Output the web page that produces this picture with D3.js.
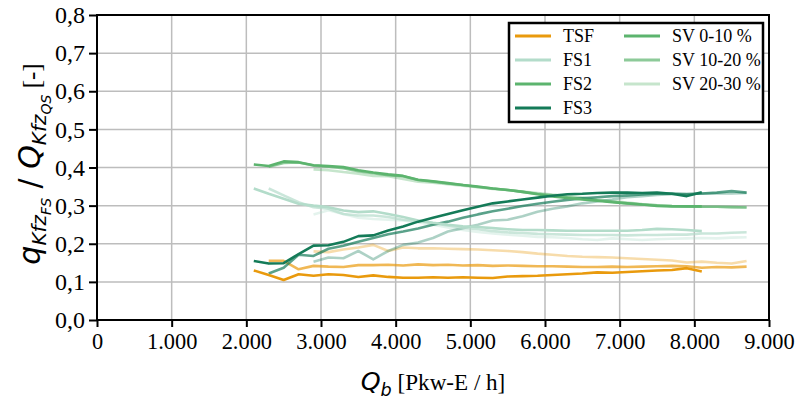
<!DOCTYPE html>
<html><head><meta charset="utf-8">
<script src="https://cdn.jsdelivr.net/npm/d3@7"></script>
<style>body{margin:0;background:#fff}svg{display:block}</style>
</head><body>
<svg id="c" width="804" height="398"></svg>
<script>
// x positions of the three speed-variation classes
const xSV1 = d3.range(2100, 8101, 200);   // SV 0-10 %
const xSV2 = d3.range(2300, 8701, 200);   // SV 10-20 %
const xSV3 = d3.range(2900, 8701, 200);   // SV 20-30 %

const xTicks = [0,1000,2000,3000,4000,5000,6000,7000,8000,9000];
const yTicks = [0,0.1,0.2,0.3,0.4,0.5,0.6,0.7,0.8];

// TSF
const tsf1 = [0.130,0.118,0.105,0.120,0.116,0.120,0.118,0.113,0.117,0.113,0.111,0.111,0.112,0.111,0.112,0.111,0.110,0.114,0.115,0.116,0.118,0.120,0.122,0.125,0.124,0.126,0.128,0.130,0.131,0.136,0.127];
const tsf2 = [0.155,0.155,0.133,0.142,0.140,0.139,0.144,0.144,0.145,0.143,0.146,0.144,0.145,0.143,0.144,0.142,0.143,0.142,0.141,0.141,0.140,0.139,0.139,0.140,0.139,0.140,0.141,0.142,0.141,0.137,0.139,0.138,0.140];
const tsf3 = [0.180,0.178,0.185,0.190,0.197,0.181,0.190,0.188,0.188,0.187,0.186,0.185,0.183,0.181,0.178,0.174,0.171,0.168,0.166,0.165,0.164,0.162,0.160,0.158,0.156,0.151,0.153,0.150,0.148,0.155];
// FS1
const fs1a = [0.345,0.331,0.318,0.305,0.300,0.296,0.287,0.283,0.285,0.278,0.270,0.261,0.255,0.250,0.246,0.244,0.241,0.238,0.236,0.236,0.235,0.234,0.234,0.234,0.234,0.234,0.236,0.239,0.238,0.236,0.233];
const fs1b = [0.345,0.327,0.309,0.296,0.292,0.278,0.274,0.274,0.270,0.263,0.260,0.254,0.248,0.242,0.238,0.233,0.230,0.228,0.226,0.225,0.224,0.223,0.223,0.223,0.222,0.223,0.223,0.224,0.224,0.227,0.227,0.229,0.230];
const fs1c = [0.277,0.288,0.278,0.268,0.265,0.263,0.261,0.256,0.250,0.243,0.236,0.231,0.227,0.224,0.221,0.218,0.217,0.215,0.212,0.210,0.214,0.212,0.210,0.212,0.213,0.214,0.215,0.214,0.216,0.217];
// FS2
const fs2a = [0.408,0.404,0.416,0.414,0.406,0.404,0.401,0.393,0.387,0.382,0.378,0.368,0.364,0.359,0.354,0.350,0.345,0.341,0.336,0.330,0.324,0.320,0.316,0.313,0.309,0.306,0.303,0.299,0.298,0.298,0.298];
const fs2b = [0.402,0.412,0.413,0.405,0.402,0.398,0.390,0.385,0.380,0.377,0.367,0.363,0.358,0.354,0.349,0.345,0.341,0.336,0.331,0.327,0.322,0.318,0.314,0.310,0.306,0.303,0.301,0.299,0.298,0.297,0.297,0.296,0.295];
const fs2c = [0.395,0.393,0.388,0.384,0.378,0.377,0.370,0.363,0.360,0.356,0.352,0.348,0.344,0.341,0.337,0.333,0.329,0.326,0.321,0.316,0.312,0.308,0.304,0.301,0.299,0.298,0.297,0.297,0.296,0.296];
// FS3
const fs3a = [0.155,0.148,0.149,0.173,0.195,0.196,0.205,0.220,0.222,0.235,0.245,0.258,0.268,0.278,0.288,0.297,0.306,0.311,0.316,0.321,0.326,0.330,0.331,0.333,0.334,0.334,0.333,0.334,0.331,0.325,0.335];
const fs3b = [0.122,0.137,0.171,0.168,0.187,0.195,0.205,0.215,0.225,0.232,0.240,0.250,0.258,0.268,0.277,0.285,0.292,0.299,0.305,0.310,0.315,0.319,0.322,0.325,0.327,0.329,0.331,0.332,0.330,0.332,0.334,0.338,0.334];
const fs3c = [0.153,0.164,0.162,0.181,0.159,0.181,0.197,0.203,0.215,0.232,0.241,0.250,0.261,0.263,0.272,0.284,0.292,0.298,0.306,0.311,0.316,0.322,0.325,0.328,0.330,0.331,0.331,0.332,0.332,0.333];

const colTSF = "#e99a0d", colFS1 = "#b3dcca", colFS2 = "#5cb46e", colFS3 = "#147b58";
const alphas = [1, 0.7, 0.35];

const series = [
  {x: xSV3, y: tsf3, c: colTSF, a: alphas[2]}, {x: xSV3, y: fs1c, c: colFS1, a: alphas[2]},
  {x: xSV3, y: fs2c, c: colFS2, a: alphas[2]}, {x: xSV3, y: fs3c, c: colFS3, a: alphas[2]},
  {x: xSV2, y: tsf2, c: colTSF, a: alphas[1]}, {x: xSV2, y: fs1b, c: colFS1, a: alphas[1]},
  {x: xSV2, y: fs2b, c: colFS2, a: alphas[1]}, {x: xSV2, y: fs3b, c: colFS3, a: alphas[1]},
  {x: xSV1, y: tsf1, c: colTSF, a: alphas[0]}, {x: xSV1, y: fs1a, c: colFS1, a: alphas[0]},
  {x: xSV1, y: fs2a, c: colFS2, a: alphas[0]}, {x: xSV1, y: fs3a, c: colFS3, a: alphas[0]}
];

const svg = d3.select("#c");
const L = 97, R = 769, T = 15, B = 320;
const x = d3.scaleLinear().domain([0, 9000]).range([L, R]);
const y = d3.scaleLinear().domain([0, 0.8]).range([B, T]);
const serif = "'Liberation Serif','Times New Roman',serif";
const sans = "'DejaVu Sans',sans-serif";
const fmtX = v => d3.format(",")(v).replace(/,/g, ".");
const fmtY = v => d3.format(".1f")(v).replace(".", ",");

// grid
const g = svg.append("g");
g.selectAll(".vg").data(xTicks.slice(1, -1)).join("line")
  .attr("x1", d => x(d)).attr("x2", d => x(d)).attr("y1", T).attr("y2", B)
  .attr("stroke", "#bdbdbd").attr("stroke-width", 1.5);
g.selectAll(".hg").data(yTicks.slice(1, -1)).join("line")
  .attr("y1", d => y(d)).attr("y2", d => y(d)).attr("x1", L).attr("x2", R)
  .attr("stroke", "#bdbdbd").attr("stroke-width", 1.5);

// lines
const line = d3.line().x(d => x(d[0])).y(d => y(d[1]));
svg.append("g").selectAll("path").data(series).join("path")
  .attr("d", s => line(s.x.map((v, i) => [v, s.y[i]])))
  .attr("fill", "none").attr("stroke", s => s.c).attr("stroke-opacity", s => s.a)
  .attr("stroke-width", 2.6).attr("stroke-linejoin", "round");

// frame
svg.append("rect").attr("x", L).attr("y", T).attr("width", R - L).attr("height", B - T)
  .attr("fill", "none").attr("stroke", "#000").attr("stroke-width", 2);

// axes
const xa = svg.append("g").attr("transform", `translate(0,${B})`)
  .call(d3.axisBottom(x).tickValues(xTicks).tickFormat(fmtX).tickSize(7).tickSizeOuter(0));
const ya = svg.append("g").attr("transform", `translate(${L},0)`)
  .call(d3.axisLeft(y).tickValues(yTicks).tickFormat(fmtY).tickSize(8).tickSizeOuter(0));
[xa, ya].forEach(a => {
  a.attr("font-size", 20).attr("font-family", serif);
  a.select(".domain").remove();
  a.selectAll(".tick line").attr("stroke", "#000").attr("stroke-width", 2);
  a.selectAll("text").attr("fill", "#000");
});
xa.selectAll("text").attr("y", 0).attr("dy", "0.71em").attr("transform", "translate(0,13) scale(1.12)");
ya.selectAll("text").attr("x", 0).attr("dy", "0.32em").attr("transform", "translate(-12,0) scale(1.2)");

// x label
const xl = svg.append("text").attr("transform", "translate(433,390) scale(1.1)").attr("text-anchor", "middle")
  .attr("font-family", serif).attr("font-size", 21);
xl.append("tspan").attr("font-family", sans).attr("font-style", "italic").attr("font-size", 23).text("Q");
xl.append("tspan").attr("font-family", sans).attr("font-style", "italic").attr("font-size", 16).attr("dy", 5).text("b");
xl.append("tspan").attr("dy", -5).text(" [Pkw-E / h]");

// y label
const yl = svg.append("text").attr("transform", "translate(40,164) rotate(-90)").attr("text-anchor", "middle")
  .attr("font-family", sans).attr("font-style", "italic").attr("font-size", 30);
yl.append("tspan").text("q");
yl.append("tspan").attr("font-size", 20).attr("dy", 6).text("Kfz");
yl.append("tspan").attr("font-size", 14).attr("dy", 5).text("FS");
yl.append("tspan").attr("dy", -11).attr("font-style", "normal").text(" / ");
yl.append("tspan").text("Q");
yl.append("tspan").attr("font-size", 20).attr("dy", 6).text("Kfz");
yl.append("tspan").attr("font-size", 14).attr("dy", 5).text("QS");
yl.append("tspan").attr("dy", -11).attr("font-style", "normal").attr("font-family", serif).attr("font-size", 25).text(" [-]");

// legend
const legItems = [
  {t: "TSF", c: colTSF, a: 1, col: 0, row: 0}, {t: "FS1", c: colFS1, a: 1, col: 0, row: 1},
  {t: "FS2", c: colFS2, a: 1, col: 0, row: 2}, {t: "FS3", c: colFS3, a: 1, col: 0, row: 3},
  {t: "SV 0-10 %", c: colFS2, a: alphas[0], col: 1, row: 0}, {t: "SV 10-20 %", c: colFS2, a: alphas[1], col: 1, row: 1},
  {t: "SV 20-30 %", c: colFS2, a: alphas[2], col: 1, row: 2}
];
const lg = svg.append("g");
lg.append("rect").attr("x", 509).attr("y", 23).attr("width", 254).attr("height", 99)
  .attr("fill", "#fff").attr("stroke", "#000").attr("stroke-width", 2.5);
const colX = [515, 624], rowY = [36, 60, 84, 108];
const li = lg.selectAll("g.it").data(legItems).join("g");
li.append("line").attr("x1", d => colX[d.col]).attr("x2", d => colX[d.col] + 36)
  .attr("y1", d => rowY[d.row]).attr("y2", d => rowY[d.row])
  .attr("stroke", d => d.c).attr("stroke-opacity", d => d.a).attr("stroke-width", 3);
li.append("text").attr("x", d => colX[d.col] + 48).attr("y", d => rowY[d.row]).attr("dy", "0.35em")
  .attr("font-family", serif).attr("font-size", 18).text(d => d.t);
</script>
</body></html>
